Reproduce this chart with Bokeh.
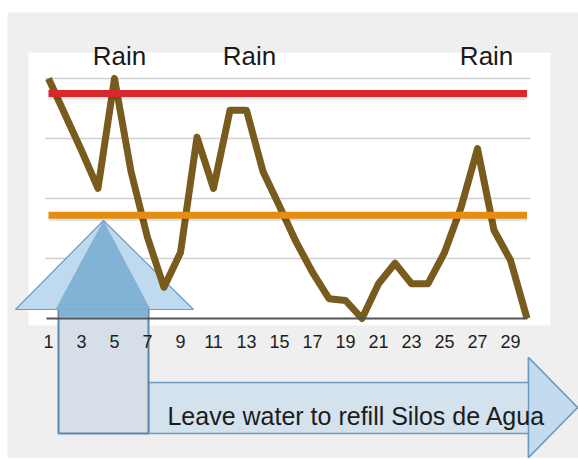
from bokeh.plotting import figure
from bokeh.models import Range1d, LinearAxis, FixedTicker, Label
from bokeh.embed import file_html
from bokeh.resources import INLINE

# ---- data ----
days = list(range(1, 31))
water_level = [4.0, 3.4, 2.8, 2.17, 4.0, 2.45, 1.35, 0.52, 1.1, 3.02,
               2.17, 3.47, 3.47, 2.45, 1.87, 1.28, 0.77, 0.33, 0.3, 0.0,
               0.58, 0.92, 0.58, 0.58, 1.1, 1.85, 2.83, 1.47, 0.97, 0.0]
upper_limit = 3.75
lower_limit = 1.72
grid_values = [1, 2, 3, 4]
tick_days = list(range(1, 30, 2))
tick_labels = [str(d) for d in tick_days]
rain_labels = ["Rain", "Rain", "Rain"]
arrow_text = "Leave water to refill Silos de Agua"

FONT = "Liberation Sans"

p = figure(width=578, height=459, output_backend="svg", toolbar_location=None,
           x_range=Range1d(-1.909, 33.12), y_range=Range1d(-2.35, 5.30),
           x_axis_type=None, y_axis_type=None, min_border=0)
p.background_fill_color = "white"
p.border_fill_color = "white"
p.outline_line_color = None

# slide background (light gray)
p.quad(left=-1.485, right=33.12, top=5.10, bottom=-2.317, fill_color="#efefef", line_color=None)

# white chart area
p.quad(left=-0.21, right=31.42, top=4.43, bottom=-0.117, fill_color="white", line_color=None)

# gridlines
p.segment(x0=[0.82] * len(grid_values), x1=[30.2] * len(grid_values),
          y0=grid_values, y1=grid_values, line_color="#cfcfcf", line_width=1.6)

# horizontal arrow
p.patch(x=[7.06, 30.09, 30.09, 33.06, 30.09, 30.09, 7.06],
        y=[-1.067, -1.067, -0.65, -1.483, -2.317, -1.917, -1.917],
        fill_color="#d4e2ee", line_color="#6d9ac2", line_width=1.5)
p.patch(x=[30.09, 30.09, 33.06, 30.09],
        y=[-0.65, -2.317, -1.483, -0.65],
        fill_color="#c3dbee", line_color="#6d9ac2", line_width=1.5)

# up arrow: shaft and head
p.quad(left=1.606, right=7.06, top=0.15, bottom=-1.917,
       fill_color="#d6dee8", line_color="#5f86aa", line_width=2)
p.patch(x=[4.333, -1.0, 9.788], y=[1.633, 0.15, 0.15],
        fill_color="#bfdaee", line_color="#6b9bc3", line_width=1.2)
p.patch(x=[4.333, 1.42, 7.18], y=[1.633, 0.15, 0.15],
        fill_color="#82b2d4", line_color=None)
p.quad(left=1.65, right=7.02, top=0.15, bottom=0.02, fill_color="#82b2d4", line_color=None)

# water level line
p.line(days, water_level, line_color="#7a5b1e", line_width=7, line_join="round")

# threshold lines (with faint shadow)
for lvl, col in ((upper_limit, "#d9282c"), (lower_limit, "#e68d10")):
    p.line([days[0], days[-1]], [lvl - 0.05, lvl - 0.05], line_color="#000000",
           line_alpha=0.10, line_width=6)
    p.line([days[0], days[-1]], [lvl, lvl], line_color=col, line_width=7)

# x axis at the baseline
xaxis = LinearAxis(fixed_location=0, ticker=FixedTicker(ticks=tick_days),
                   major_label_overrides={d: l for d, l in zip(tick_days, tick_labels)})
xaxis.bounds = (0.9, 30.05)
xaxis.axis_line_color = "#555555"
xaxis.axis_line_width = 2
xaxis.major_tick_line_color = None
xaxis.minor_tick_line_color = None
xaxis.major_label_standoff = 10
xaxis.major_label_text_font = FONT
xaxis.major_label_text_font_size = "18px"
xaxis.major_label_text_color = "#1e1e1e"
p.add_layout(xaxis, "below")

# Rain labels
for lbl, x in zip(rain_labels, (5.30, 13.18, 27.55)):
    p.add_layout(Label(x=x, y=4.383, text=lbl, text_align="center", text_baseline="alphabetic",
                       text_font=FONT, text_font_size="26px", text_color="#1a1a1a"))

# arrow text
p.add_layout(Label(x=8.21, y=-1.617, text=arrow_text, text_align="left",
                   text_baseline="alphabetic", text_font=FONT, text_font_size="25px",
                   text_color="#1c1c1c"))

open("out.html", "w").write(file_html(p, INLINE))
